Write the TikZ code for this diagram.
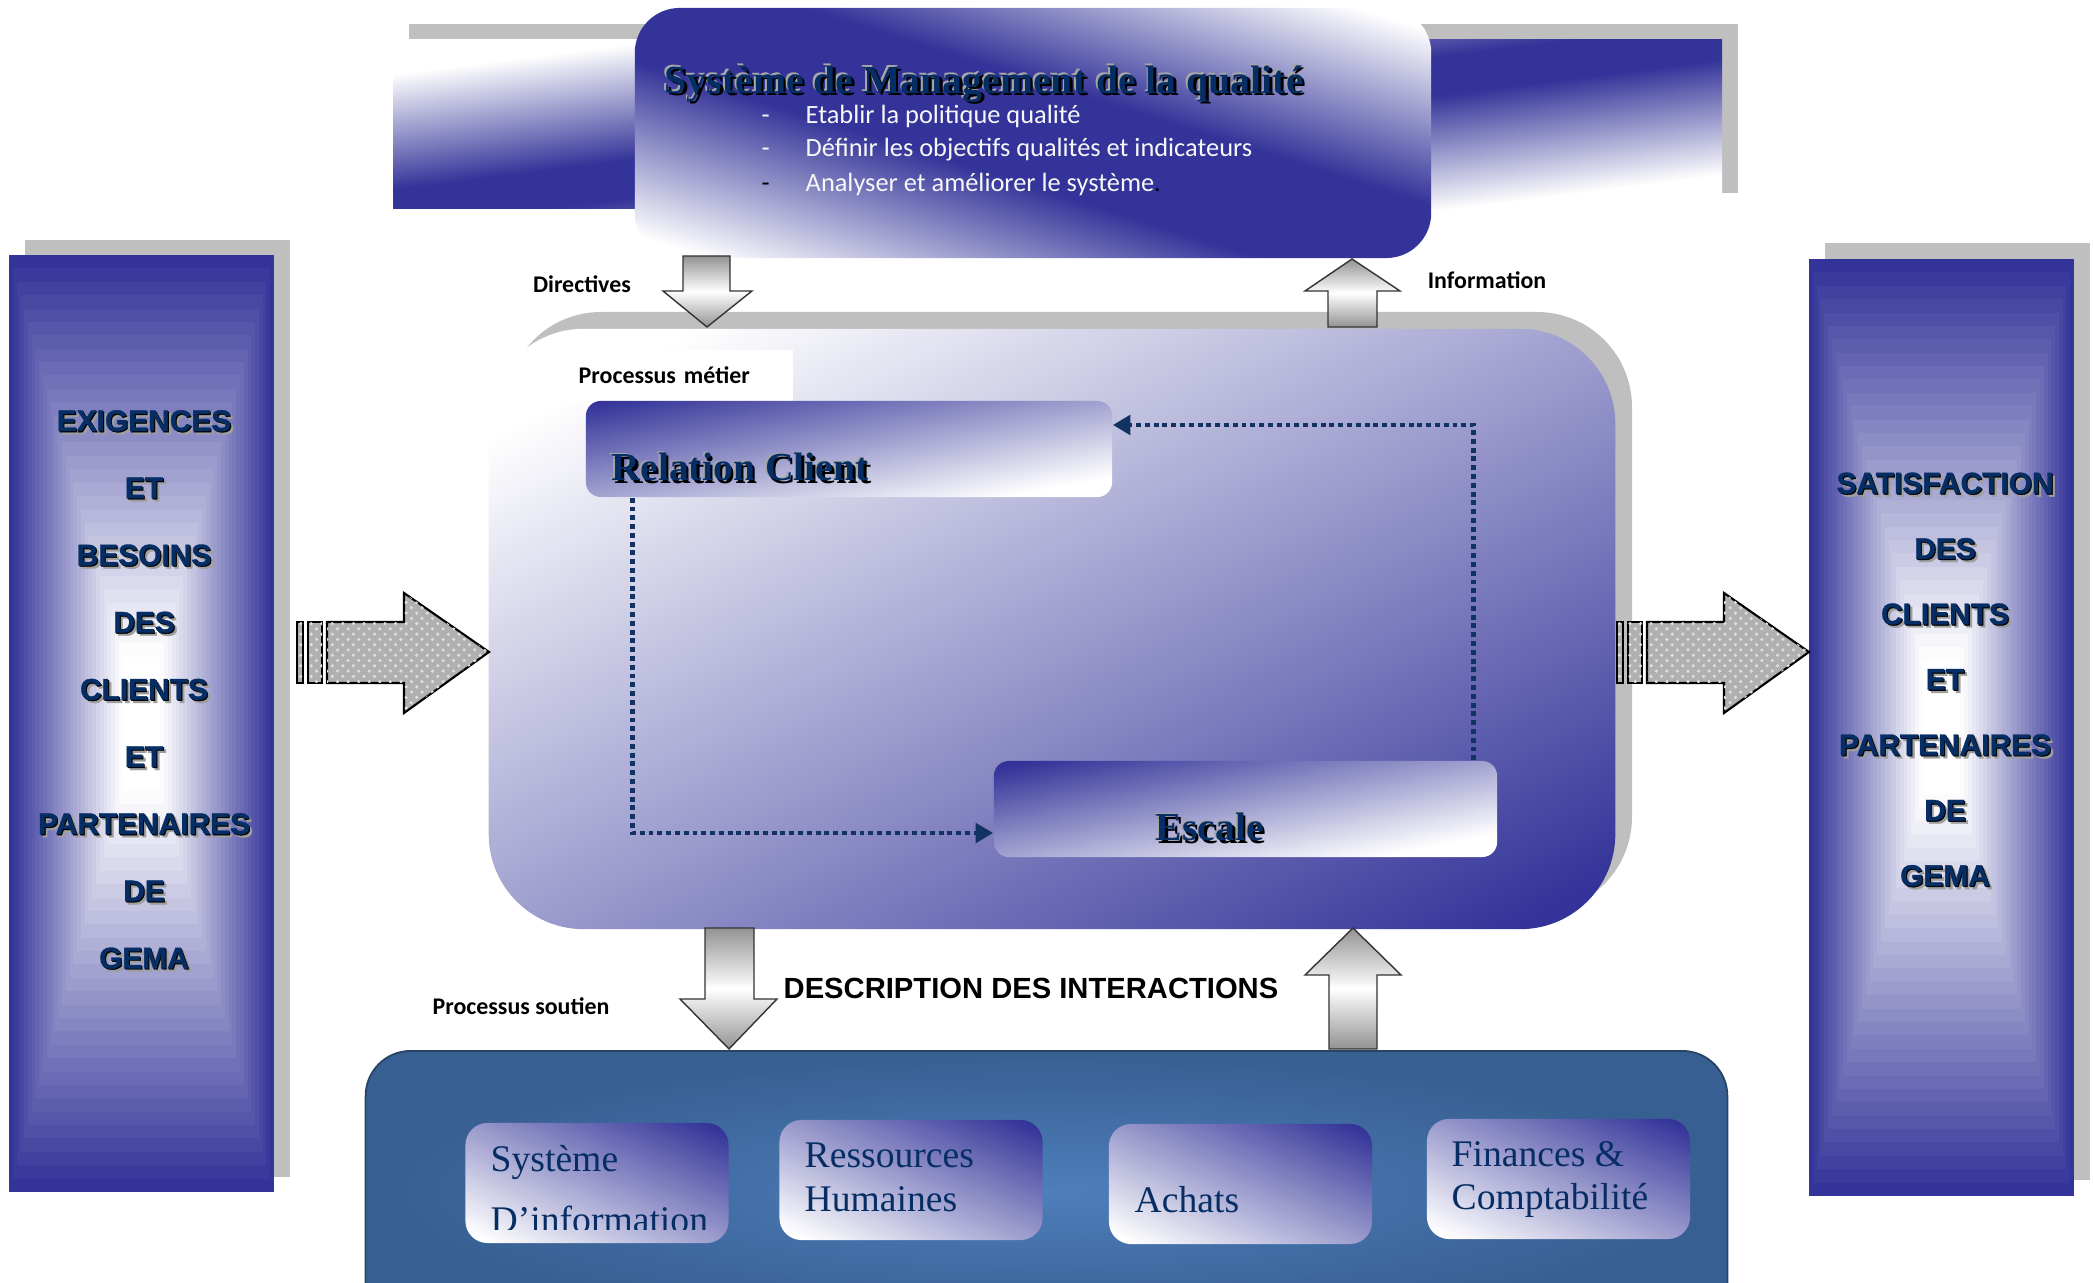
\documentclass[tikz,border=0pt]{standalone}
\usepackage{fontspec}
\setmainfont{Liberation Serif}
\newfontfamily\calibri{Carlito}
\newfontfamily\arial{Liberation Sans}
\newfontfamily\arialnoir{Liberation Sans}[BoldFeatures={FakeBold=1.2}]
\usetikzlibrary{calc,positioning,arrows.meta,patterns,shadings}

\definecolor{marine}{RGB}{51,51,153}
\definecolor{encre}{RGB}{6,46,100}
\definecolor{gristombe}{RGB}{191,191,191}
\definecolor{acier}{RGB}{55,95,145}
\definecolor{acierclair}{RGB}{78,126,187}
\definecolor{pointille}{RGB}{18,50,100}

% degrades (la zone utile est entre 25bp et 75bp)
\pgfdeclarehorizontalshading{bandesmq}{100bp}{color(0bp)=(white); color(37bp)=(white); color(47bp)=(marine); color(53bp)=(marine); color(63bp)=(white); color(100bp)=(white)}
\pgfdeclarehorizontalshading{bandelarge}{100bp}{color(0bp)=(white); color(45bp)=(white); color(49.3bp)=(marine); color(50.7bp)=(marine); color(55bp)=(white); color(100bp)=(white)}
\pgfdeclarehorizontalshading{fondumetier}{100bp}{color(0bp)=(white); color(33bp)=(white); color(69bp)=(marine); color(100bp)=(marine)}
\pgfdeclarehorizontalshading{fonducartouche}{100bp}{color(0bp)=(marine); color(41.5bp)=(marine); color(57bp)=(white); color(100bp)=(white)}
\pgfdeclarehorizontalshading{fonduservice}{100bp}{color(0bp)=(white); color(33bp)=(white); color(67.5bp)=(marine); color(100bp)=(marine)}
\pgfdeclareverticalshading{cylindre}{100bp}{color(0bp)=(gray!85); color(25bp)=(gray!85); color(50bp)=(white); color(75bp)=(gray!85); color(100bp)=(gray!85)}

\newcommand{\titreombre}[1]{\makebox[0pt][l]{\raisebox{0.5pt}{\kern-0.5pt\textcolor{gray!70}{#1}}}\makebox[0pt][l]{\raisebox{-0.7pt}{\kern0.7pt\textcolor{black}{#1}}}\textcolor{encre}{#1}}
\newcommand{\coteombre}[1]{\makebox[0pt][l]{\raisebox{-0.9pt}{\kern0.9pt\textcolor{gray!75}{#1}}}\makebox[0pt][l]{\raisebox{-0.3pt}{\kern0.3pt\textcolor{black}{#1}}}\textcolor{encre}{#1}}

\begin{document}
\begin{tikzpicture}[x=0.01cm, y=-0.01cm,
  ombre/.style={fill=gristombe, draw=none},
  boite/.style={draw=none, inner sep=0pt},
  degrade/.style n args={3}{path picture={\shade[shading=#1, shading angle=#2] ($(path picture bounding box.center)+(-#3/2,-#3/2)$) rectangle ++(#3,#3);}},
  titre/.style={font=\bfseries\fontsize{11.3}{13}\selectfont, inner sep=0pt},
  etiq/.style={font=\calibri\bfseries\fontsize{6.8}{8}\selectfont, inner sep=0pt},
  cote/.style={font=\arialnoir\bfseries\fontsize{8.5}{19.1}\selectfont, align=center, inner sep=0pt},
  service/.style={font=\fontsize{10.7}{12}\selectfont, text=encre, anchor=base west, inner sep=0pt},
  petiteboite/.style={boite, degrade={fonduservice}{65.5}{290}, rounded corners=0.22cm, minimum width=2.63cm, minimum height=1.2cm},
  liaison/.style={draw=pointille, line width=1.4pt, dash pattern=on 1.4pt off 1.1pt, -{Triangle[length=5pt,width=5.5pt]}},
  bloc/.style={draw=black!80, line width=0.4pt, shade, shading=cylindre},
  granit/.style={draw=black, line width=0.6pt, fill=gray!62, postaction={pattern=crosshatch dots, pattern color=gray!25}}]
\useasboundingbox (0,0) rectangle (2093,1283);

% systeme de management
\fill[ombre] (409,24) rectangle (1738,193);
\path[degrade={bandelarge}{-82.75}{1341}] (393,40) rectangle (1722,209);
\node[boite, degrade={bandesmq}{72.56}{835}, rounded corners=0.45cm, minimum width=7.96cm, minimum height=2.5cm] (smq) at (1033,133) {};
\node[titre, anchor=west] (titresmq) at (664,84) {\titreombre{Système de Management de la qualité}};
\node[font=\calibri\fontsize{7.5}{9.6}\selectfont, text=gray!6, anchor=north west, align=left, inner sep=0pt] (objectifs) at (761,104)
  {\makebox[0.44cm][l]{-}Etablir la politique qualité\\
   \makebox[0.44cm][l]{-}Définir les objectifs qualités et indicateurs\\[0.3pt]
   \makebox[0.44cm][l]{\textcolor{black}{-}}Analyser et améliorer le système\textcolor{black}{.}};

% cotes gauche et droite
\fill[ombre] (25,240) rectangle (290,1177);
\fill[ombre] (1825,243) rectangle (2090,1180);
\node[boite, minimum width=2.65cm, minimum height=9.37cm] (exigences) at (141.5,723.5) {};
\node[boite, minimum width=2.65cm, minimum height=9.37cm] (satisfaction) at (1941.5,727.5) {};
\foreach \b in {exigences,satisfaction}{
  \foreach \i in {0,...,34}{
    \pgfmathsetmacro{\s}{1-\i/35}
    \pgfmathsetmacro{\p}{max(0,100-3.4*\i)}
    \fill[marine!\p!white] ($(\b.center)+(-132.5*\s,-468.5*\s)$) rectangle ($(\b.center)+(132.5*\s,468.5*\s)$);
  }
}
\node[cote] (txtexig) at (144,691) {\coteombre{EXIGENCES}\\ \coteombre{ET}\\ \coteombre{BESOINS}\\ \coteombre{DES}\\ \coteombre{CLIENTS}\\ \coteombre{ET}\\ \coteombre{PARTENAIRES}\\ \coteombre{DE}\\ \coteombre{GEMA}};
\node[cote, font=\arialnoir\bfseries\fontsize{8.5}{18.6}\selectfont] (txtsatis) at (1945,681) {\coteombre{SATISFACTION}\\ \coteombre{DES}\\ \coteombre{CLIENTS}\\ \coteombre{ET}\\ \coteombre{PARTENAIRES}\\ \coteombre{DE}\\ \coteombre{GEMA}};

% processus metier
\fill[ombre, rounded corners=0.95cm] (506,312) rectangle (1632,912);
\node[boite, degrade={fondumetier}{-61.95}{1277}, rounded corners=0.95cm, minimum width=11.26cm, minimum height=6cm] (metier) at (1052,629) {};
\node[etiq, fill=white, anchor=north west, minimum height=0.51cm, text width=1.94cm, inner xsep=0.2cm] (labelmetier) at (558,349) {Processus métier};
\node[boite, degrade={fonducartouche}{-79.66}{535}, rounded corners=0.15cm, minimum width=5.26cm, minimum height=0.96cm] (relclient) at (849,449) {};
\node[titre, anchor=base west] (txtrel) at (611,481) {\titreombre{Relation Client}};
\node[boite, degrade={fonducartouche}{-79.2}{513}, rounded corners=0.15cm, minimum width=5.03cm, minimum height=0.96cm] (escale) at (1245.5,809) {};
\node[titre, anchor=base] (txtescale) at (1210,841) {\titreombre{Escale}};
\draw[liaison] ([xshift=0.47cm]relclient.south west) |- ([yshift=-0.24cm]escale.west);
\draw[liaison] ([xshift=-0.24cm]escale.north east) |- ([yshift=0.24cm]relclient.east);

% fleches
\draw[bloc] (683,256) -- (730,256) -- (730,291) -- (752,291) -- (707,327) -- (663,291) -- (683,291) -- cycle;
\draw[bloc] (1328,327) -- (1377,327) -- (1377,291) -- (1400,291) -- (1352,259) -- (1305,291) -- (1328,291) -- cycle;
\draw[bloc] (705,928) -- (754,928) -- (754,999) -- (777,999) -- (729,1049) -- (680,999) -- (705,999) -- cycle;
\draw[bloc] (1329,1049) -- (1377,1049) -- (1377,975) -- (1401,975) -- (1353,928) -- (1305,975) -- (1329,975) -- cycle;
\foreach \dx in {0,1320}{
  \begin{scope}[xshift=\dx*0.01cm]
    \draw[granit] (297,622) rectangle (303,683);
    \draw[granit] (308,622) rectangle (322,683);
    \draw[granit] (327,622) -- (404,622) -- (404,593) -- (489,652) -- (404,713) -- (404,683) -- (327,683) -- cycle;
  \end{scope}
}
\node[etiq] (directives) at (582,284) {Directives};
\node[etiq] (information) at (1487,280) {Information};
\node[etiq] (labelsoutien) at (521,1006) {Processus soutien};
\node[font=\arial\bfseries\fontsize{8.3}{10}\selectfont, inner sep=0pt] (interactions) at (1031,988) {DESCRIPTION DES INTERACTIONS};

% processus soutien
\node[boite, shade, inner color=acierclair, outer color=acier, draw=acier!70!black, line width=0.5pt, rounded corners=0.45cm, minimum width=13.61cm, minimum height=2.8cm] (soutien) at (1046.5,1191) {};
\node[petiteboite] (sysinfo) at (597,1183) {};
\node[petiteboite] (rh) at (911,1180) {};
\node[petiteboite] (achats) at (1240.5,1184) {};
\node[petiteboite] (finances) at (1558.5,1179) {};
\begin{scope}
  \clip (466,1100) rectangle (731,1230);
  \node[service] (txtsys) at (490,1172) {Système};
  \node[service] (txtinfo) at (490,1233) {D’information};
\end{scope}
\node[service] (txtres) at (804,1168) {Ressources};
\node[service] (txthum) at (804,1212) {Humaines};
\node[service] (txtach) at (1134,1213) {Achats};
\node[service] (txtfin) at (1451,1167) {Finances \&};
\node[service] (txtcpt) at (1451,1210) {Comptabilité};
\end{tikzpicture}
\end{document}
